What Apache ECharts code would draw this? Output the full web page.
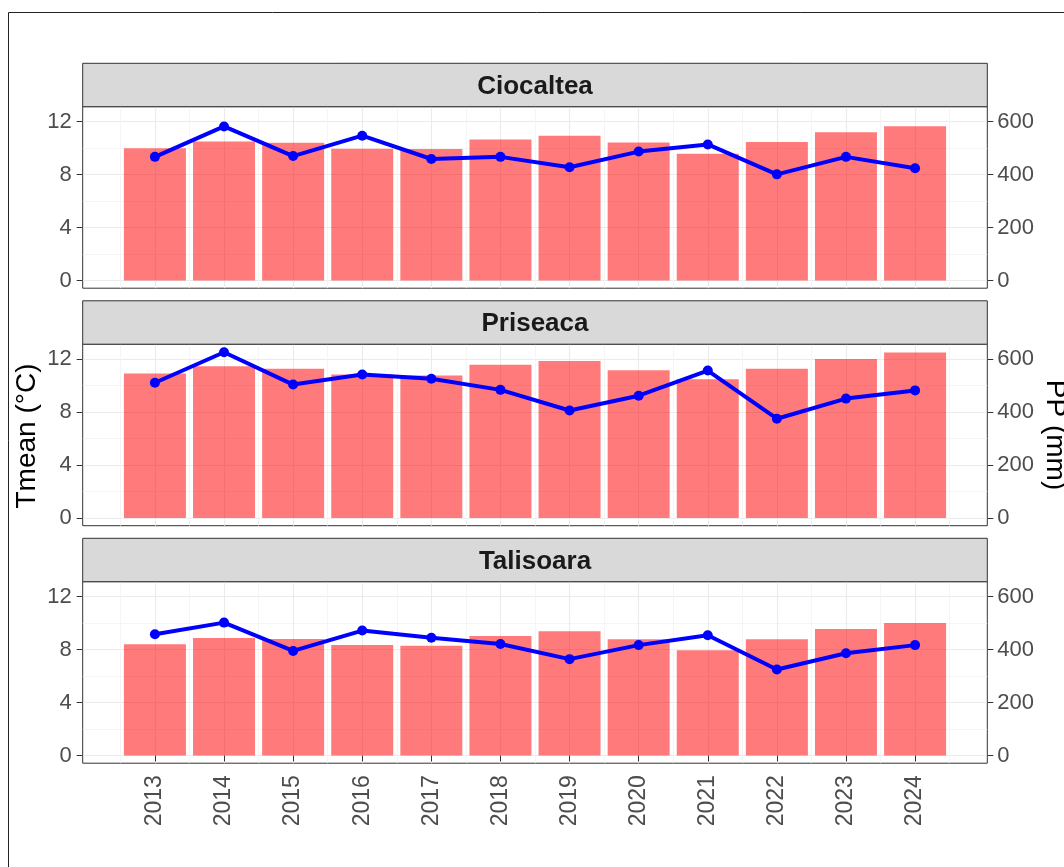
<!DOCTYPE html>
<html><head><meta charset="utf-8">
<script src="https://cdn.jsdelivr.net/npm/echarts@6/dist/echarts.min.js"></script>
<style>html,body{margin:0;padding:0;background:#fff}#c{width:1064px;height:867px}</style>
</head><body><div id="c"></div>
<script>
// ---- data ----
const years = [2013, 2014, 2015, 2016, 2017, 2018, 2019, 2020, 2021, 2022, 2023, 2024];
const sites = ['Ciocaltea', 'Priseaca', 'Talisoara'];
const tmeanCiocaltea = [10.0, 10.5, 10.4, 9.96, 9.94, 10.66, 10.94, 10.42, 9.58, 10.47, 11.2, 11.65];
const ppCiocaltea    = [467, 582, 470, 547, 459, 467, 428, 487, 514, 401, 467, 424];
const tmeanPriseaca  = [10.91, 11.47, 11.27, 10.84, 10.76, 11.57, 11.87, 11.17, 10.49, 11.27, 12.02, 12.5];
const ppPriseaca     = [511, 626, 504, 542, 526, 484, 406, 462, 557, 375, 451, 482];
const tmeanTalisoara = [8.41, 8.88, 8.81, 8.35, 8.30, 9.03, 9.39, 8.78, 7.95, 8.78, 9.56, 10.01];
const ppTalisoara    = [458, 502, 395, 472, 445, 421, 364, 417, 454, 325, 386, 417];
const tmeanTicks = [0, 4, 8, 12];
const tmeanMinorTicks = [2, 6, 10];
const ppTicks = [0, 200, 400, 600];
const yTitleLeft = 'Tmean (°C)';
const yTitleRight = 'PP (mm)';

const tmeanBySite = [tmeanCiocaltea, tmeanPriseaca, tmeanTalisoara];
const ppBySite = [ppCiocaltea, ppPriseaca, ppTalisoara];
const halfYears = years.map(y => y - 0.5).concat([years[years.length - 1] + 0.5]);

// ---- layout ----
const FONT = 'Liberation Sans, Arial, sans-serif';
const plotLeft = 82.7, plotRight = 987.3;
const plotTops = [106.7, 344.2, 581.7];
const plotH = 181.5, stripH = 43.4;
const xMin = 2011.955, xMax = 2025.045;
const tMin = -0.58, tMax = 13.13, ratio = 50;
const major = { show: true, lineStyle: { color: '#EBEBEB', width: 1.1 } };
const minor = { show: true, lineStyle: { color: '#F2F2F2', width: 0.8 } };

const grid = [], xAxis = [], yAxis = [], series = [], graphic = [];

sites.forEach((name, i) => {
  const isLast = i === sites.length - 1;
  grid.push({ left: plotLeft, width: plotRight - plotLeft, top: plotTops[i], height: plotH,
    show: true, backgroundColor: '#fff', borderColor: '#333333', borderWidth: 1 });
  // data x-axis (major grid at years)
  xAxis.push({ type: 'value', gridIndex: i, min: xMin, max: xMax,
    axisLine: { show: false },
    axisTick: { show: isLast, customValues: years, length: 6, lineStyle: { color: '#333' } },
    axisLabel: { show: isLast, customValues: years, rotate: 90, margin: 12,
      color: '#4D4D4D', fontSize: 23, fontFamily: FONT, formatter: v => String(v) },
    splitLine: major });
  // minor x grid
  xAxis.push({ type: 'value', gridIndex: i, min: xMin, max: xMax,
    axisLine: { show: false }, axisTick: { show: false, customValues: halfYears },
    axisLabel: { show: false }, splitLine: minor });
  // left Tmean
  yAxis.push({ type: 'value', gridIndex: i, position: 'left', min: tMin, max: tMax,
    axisLine: { show: false },
    axisTick: { show: true, customValues: tmeanTicks, length: 6, lineStyle: { color: '#333' } },
    axisLabel: { customValues: tmeanTicks, margin: 11, color: '#4D4D4D', fontSize: 22, fontFamily: FONT },
    splitLine: major });
  // right PP
  yAxis.push({ type: 'value', gridIndex: i, position: 'right', min: tMin * ratio, max: tMax * ratio,
    axisLine: { show: false },
    axisTick: { show: true, customValues: ppTicks, length: 6, lineStyle: { color: '#333' } },
    axisLabel: { customValues: ppTicks, margin: 10, color: '#4D4D4D', fontSize: 22, fontFamily: FONT },
    splitLine: { show: false } });
  // minor y grid
  yAxis.push({ type: 'value', gridIndex: i, position: 'left', min: tMin, max: tMax,
    axisLine: { show: false }, axisTick: { show: false, customValues: tmeanMinorTicks },
    axisLabel: { show: false }, splitLine: minor });

  series.push({ type: 'bar', name: 'Tmean ' + name, xAxisIndex: 2 * i, yAxisIndex: 3 * i,
    data: years.map((y, k) => [y, tmeanBySite[i][k]]), barWidth: 62,
    itemStyle: { color: 'rgba(255,0,0,0.52)' }, z: 2 });
  series.push({ type: 'line', name: 'PP ' + name, xAxisIndex: 2 * i, yAxisIndex: 3 * i + 1,
    data: years.map((y, k) => [y, ppBySite[i][k]]),
    symbol: 'circle', symbolSize: 10, showSymbol: true,
    lineStyle: { color: '#0000FF', width: 4 }, itemStyle: { color: '#0000FF' }, z: 3 });

  // strip
  graphic.push({ type: 'rect', shape: { x: plotLeft, y: plotTops[i] - stripH, width: plotRight - plotLeft, height: stripH },
    style: { fill: '#D9D9D9', stroke: '#333333', lineWidth: 1 }, z: 10 });
  graphic.push({ type: 'text', x: (plotLeft + plotRight) / 2, y: plotTops[i] - stripH / 2 + 1.5,
    style: { text: name, font: 'bold 26px ' + FONT, fill: '#1A1A1A', align: 'center', verticalAlign: 'middle' }, z: 11 });
});

// frame and titles
graphic.push({ type: 'rect', shape: { x: 8.5, y: 12.5, width: 1200, height: 1000 },
  style: { fill: 'none', stroke: '#222', lineWidth: 1 }, z: 0, silent: true });
graphic.push({ type: 'text', x: 27, y: 436, rotation: Math.PI / 2,
  style: { text: yTitleLeft, font: '28px ' + FONT, fill: '#000', align: 'center', verticalAlign: 'middle' }, z: 11 });
graphic.push({ type: 'text', x: 1055, y: 435, rotation: -Math.PI / 2,
  style: { text: yTitleRight, font: '28px ' + FONT, fill: '#000', align: 'center', verticalAlign: 'middle' }, z: 11 });

const chart = echarts.init(document.getElementById('c'), null, { renderer: 'canvas' });
chart.setOption({ animation: false, backgroundColor: '#fff', grid, xAxis, yAxis, series, graphic });
</script>
</body></html>
